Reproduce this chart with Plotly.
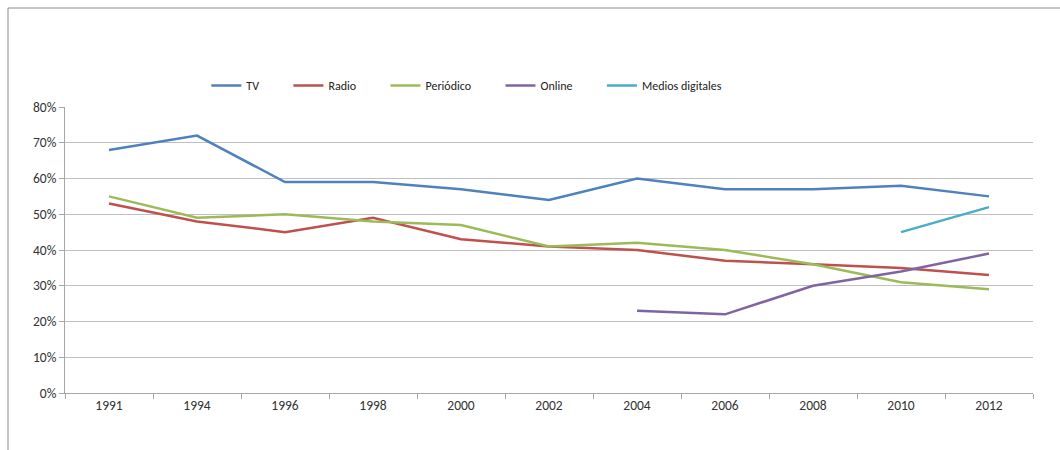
import plotly.graph_objects as go

years = ["1991", "1994", "1996", "1998", "2000", "2002", "2004", "2006", "2008", "2010", "2012"]
tv = [68, 72, 59, 59, 57, 54, 60, 57, 57, 58, 55]
radio = [53, 48, 45, 49, 43, 41, 40, 37, 36, 35, 33]
periodico = [55, 49, 50, 48, 47, 41, 42, 40, 36, 31, 29]
online = [None, None, None, None, None, None, 23, 22, 30, 34, 39]
medios = [None, None, None, None, None, None, None, None, None, 45, 52]

names = ["TV", "Radio", "Periódico", "Online", "Medios digitales"]
colors = ["#4F81BD", "#C0504D", "#9BBB59", "#8064A2", "#4BACC6"]
series = [tv, radio, periodico, online, medios]

FONT = "Carlito, 'Liberation Sans Narrow', 'Liberation Sans', Arial, sans-serif"
PAD = "\u00a0" * 9

fig = go.Figure()
for i, (n, c, s) in enumerate(zip(names, colors, series)):
    fig.add_trace(go.Scatter(
        x=years, y=[v / 100 if v is not None else None for v in s],
        mode="lines", name=n + (PAD if i < len(names) - 1 else ""),
        line=dict(color=c, width=2.5), connectgaps=False,
    ))

fig.update_layout(
    width=1060, height=450,
    margin=dict(l=65, r=27, t=107, b=57),
    paper_bgcolor="white", plot_bgcolor="white",
    font=dict(family=FONT, size=12, color="#333333"),
    showlegend=True,
    legend=dict(orientation="h", x=0.146, xanchor="left", y=1.075, yanchor="middle",
                font=dict(size=12, color="#222222"), itemwidth=30,
                bgcolor="rgba(0,0,0,0)"),
    xaxis=dict(type="category", showgrid=False, showline=True, linecolor="#A6A6A6",
               ticks="outside", tickson="boundaries", ticklen=5, tickcolor="#A6A6A6",
               tickfont=dict(size=13.5, color="#333333"), range=[-0.5, 10.5]),
    yaxis=dict(range=[0, 0.8], dtick=0.1, tickformat=".0%", showgrid=True,
               gridcolor="#BFBFBF", gridwidth=1, showline=True, linecolor="#A6A6A6",
               ticks="outside", ticklen=5, tickcolor="#A6A6A6", zeroline=False,
               tickfont=dict(size=13.5, color="#333333")),
)

fig.add_shape(type="rect", xref="paper", yref="paper",
              x0=(8 - 65) / 968, x1=1.05, y0=-0.3, y1=(393 - 8) / 286,
              line=dict(color="#8C8C8C", width=1), fillcolor="rgba(0,0,0,0)", layer="below")

fig.write_html("out.html")
